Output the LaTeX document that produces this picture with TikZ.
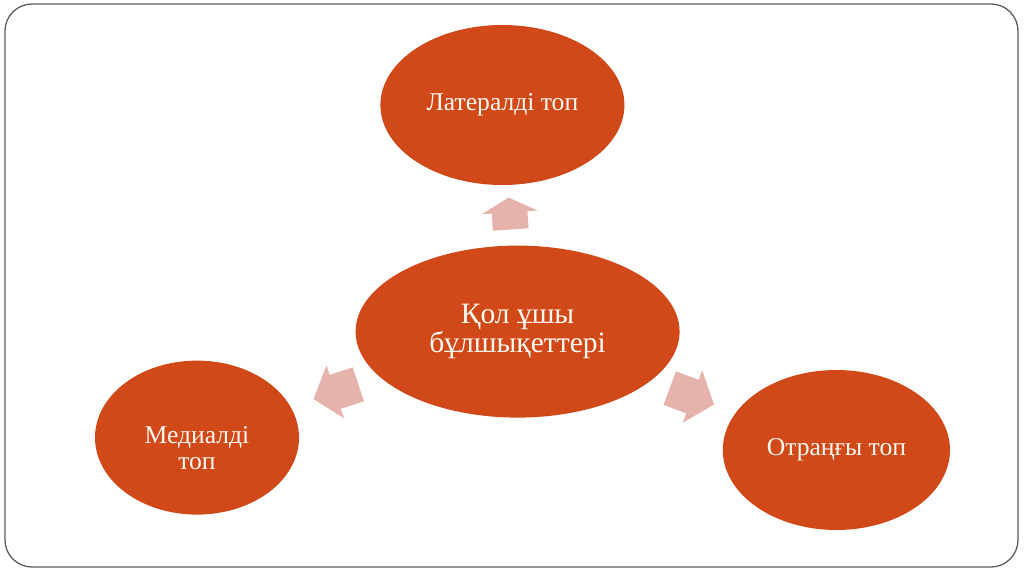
\documentclass[tikz,border=0pt]{standalone}
\usepackage{fontspec}
\setmainfont{Liberation Serif}
\usetikzlibrary{shapes.geometric,shapes.arrows}
\definecolor{ovalrot}{RGB}{209,73,25}
\definecolor{pfeilrosa}{RGB}{230,178,172}
\definecolor{textweiss}{RGB}{255,250,240}
\definecolor{rahmengrau}{RGB}{90,90,90}
\begin{document}
\begin{tikzpicture}[
      oval/.style={ellipse, fill=ovalrot, text=textweiss, inner sep=0pt, align=center, font=\fontsize{18.2}{18.6}\selectfont},
      blockpfeil/.style={single arrow, fill=pfeilrosa, inner xsep=0pt, inner ysep=0.44cm, single arrow head extend=0.25cm, sloped, allow upside down}
    ]
      \useasboundingbox (0,0) rectangle (25.6,-14.35);
      \draw[rahmengrau, line width=0.9pt, rounded corners=0.675cm] (0.125,-0.1) rectangle (25.45,-14.175);

      \node[oval, minimum width=6.1cm, minimum height=4.0cm] (lateral) at (12.56,-2.625) {Латералді топ};
      \node[oval, minimum width=8.1cm, minimum height=4.3cm, font=\fontsize{21}{19.5}\selectfont] (mitte) at (12.94,-8.29) {Қол ұшы\\бұлшықеттері};
      \node[oval, minimum width=5.1cm, minimum height=3.85cm, text height=1.59cm] (medial) at (4.925,-10.94) {Медиалді\\топ};
      \node[oval, minimum width=5.68cm, minimum height=4.0cm] (ventral) at (20.91,-11.25) {Отраңғы топ};

      \path (mitte.center) -- node[blockpfeil, pos=0.5, minimum height=0.8cm, single arrow tip angle=124] (pfeiloben) {} (lateral.center);
      \path (mitte.center) -- node[blockpfeil, pos=0.545, minimum height=1.18cm, single arrow tip angle=101] (pfeillinks) {} (medial.center);
      \path (mitte.center) -- node[blockpfeil, pos=0.525, minimum height=1.18cm, single arrow tip angle=101] (pfeilrechts) {} (ventral.center);
    \end{tikzpicture}
\end{document}
